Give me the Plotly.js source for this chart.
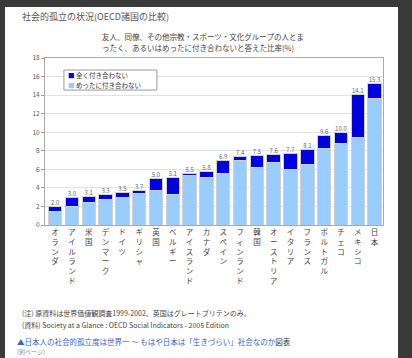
<!DOCTYPE html>
<html><head><meta charset="utf-8">
<script src="https://cdn.plot.ly/plotly-3.0.1.min.js"></script>
<style>
html,body{margin:0;padding:0;background:#3a3a3a;width:412px;height:358px;overflow:hidden;}
#chart{position:absolute;left:5px;top:7px;width:393px;height:351px;background:#fff;}
</style></head>
<body><div id="chart"></div>
<script>
const countries = ["オランダ","アイルランド","米国","デンマーク","ドイツ","ギリシャ","英国","ベルギー","アイスランド","カナダ","スペイン","フィンランド","韓国","オーストリア","イタリア","フランス","ポルトガル","チェコ","メキシコ","日本"];
const rarely = [1.5,2.0,2.4,2.8,3.0,3.4,3.7,3.3,5.3,5.1,5.5,6.9,6.2,6.7,6.0,6.5,8.2,8.8,9.4,13.6];
const never  = [0.5,1.0,0.7,0.5,0.5,0.3,1.3,1.8,0.2,0.7,1.4,0.5,1.3,0.9,1.7,1.6,1.4,1.2,4.7,1.7];
const totals = ["2.0","3.0","3.1","3.3","3.5","3.7","5.0","5.1","5.5","5.8","6.9","7.4","7.5","7.6","7.7","8.1","9.6","10.0","14.1","15.3"];
const seriesNames = ["めったに付き合わない","全く付き合わない"];
const seriesColors = ["#99CCFF","#0000DD"];
const yTicks = [0,2,4,6,8,10,12,14,16,18];

const idx = countries.map((_, i) => i);
const vertLabels = countries.map(c => Array.from(c).join("<br>"));
const font = "'Noto Sans CJK JP', 'Noto Sans', sans-serif";

const data = [
  {type:"bar", x: idx, y: rarely, name:seriesNames[0],
   marker:{color:seriesColors[0], line:{color:"#d0d0d0", width:1}}, hoverinfo:"none", showlegend:false},
  {type:"bar", x: idx, y: never, name:seriesNames[1],
   marker:{color:seriesColors[1], line:{color:"#d0d0d0", width:1}}, hoverinfo:"none", showlegend:false},
  {type:"scatter", mode:"text", x: idx, y: totals.map(Number), text: totals,
   textposition:"top center", textfont:{size:6, color:"#666", family:font},
   showlegend:false, hoverinfo:"none", cliponaxis:false}
];

function note(x, y, text, size, color) {
  return {xref:"paper", yref:"paper", x, y, xanchor:"left", yanchor:"middle",
    text, showarrow:false, font:{size, color}};
}

const layout = {
  width:393, height:351,
  margin:{l:40, r:15, t:51, b:133},
  paper_bgcolor:"#fff", plot_bgcolor:"#fff",
  barmode:"stack", bargap:0.2,
  font:{family:font, color:"#444", size:7},
  showlegend:false,
  xaxis:{range:[-0.6,19.5], tickvals: idx, ticktext: vertLabels, tickangle:0,
    tickfont:{size:7.5, color:"#444"}, showgrid:false, zeroline:false,
    showline:true, linecolor:"#aaa", mirror:true, ticks:"", fixedrange:true},
  yaxis:{range:[0,18], tickvals:yTicks, ticktext:yTicks.map(String),
    tickfont:{size:6.5, color:"#555"}, showgrid:true, gridcolor:"#e2e2e2",
    zeroline:false, showline:true, linecolor:"#aaa", mirror:true,
    ticks:"outside", ticklen:3, tickcolor:"#999", fixedrange:true},
  shapes:[
    {type:"rect", xref:"paper", yref:"paper", x0:0.056, x1:0.331, y0:0.808, y1:0.928,
     line:{color:"#999", width:1}, fillcolor:"#fff", layer:"above"}
  ],
  annotations:[
    note(-0.074, 1.251, "社会的孤立の状況(OECD諸国の比較)", 9, "#555"),
    note(0.163, 1.126, "友人、同僚、その他宗教・スポーツ・文化グループの人とま", 7.5, "#444"),
    note(0.163, 1.06, "ったく、あるいはめったに付き合わないと答えた比率(%)", 7.5, "#444"),
    note(0.062, 0.898, "<span style='color:" + seriesColors[1] + "'>■</span> " + seriesNames[1], 6.5, "#333"),
    note(0.062, 0.838, "<span style='color:" + seriesColors[0] + "'>■</span> " + seriesNames[0], 6.5, "#333"),
    note(-0.074, -0.527, "(注) 原資料は世界価値観調査1999-2002。英国はグレートブリテンのみ。", 7, "#444"),
    note(-0.074, -0.599, "(資料) Society at a Glance : OECD Social Indicators - 2005 Edition", 7, "#444"),
    note(-0.089, -0.695, "<span style='color:#3366cc'>▲日本人の社会的孤立度は世界一 ～ もはや日本は「生きづらい」社会なのか</span>図表", 7.5, "#333"),
    note(-0.089, -0.76, "(別ページ)", 6, "#888")
  ]
};

Plotly.newPlot("chart", data, layout, {staticPlot:true, displayModeBar:false});
</script></body></html>
